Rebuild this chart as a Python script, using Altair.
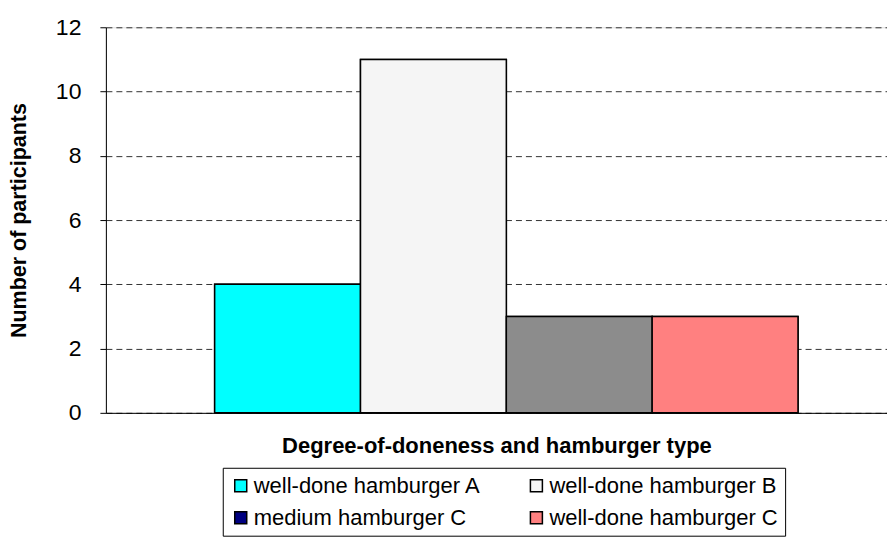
import altair as alt
import pandas as pd

types = ["well-done hamburger A", "well-done hamburger B", "medium hamburger C", "well-done hamburger C"]
counts = [4, 11, 3, 3]
bar_fill = ["#00FFFF", "#F5F5F5", "#8C8C8C", "#FF8080"]
legend_fill = ["#00FFFF", "#F5F5F5", "#000080", "#FF8080"]
y_ticks = [0, 2, 4, 6, 8, 10, 12]

df = pd.DataFrame({"type": types, "count": counts})

FONT = "Liberation Sans"

x_enc = alt.X(
    "type:N",
    sort=types,
    scale=alt.Scale(paddingInner=0, paddingOuter=0.678, align=0.55),
    axis=alt.Axis(
        labels=False, ticks=False, domainColor="black", domainWidth=1,
        title="Degree-of-doneness and hamburger type",
        titleFont=FONT, titleFontSize=22, titleFontWeight="bold",
        titleColor="black", titlePadding=23,
    ),
)
y_enc = alt.Y(
    "count:Q",
    scale=alt.Scale(domain=[0, 12], nice=False),
    axis=alt.Axis(
        values=y_ticks, grid=True, gridColor="#333333", gridDash=[6, 4], gridWidth=1,
        domainColor="black", tickColor="black", tickSize=6,
        labelFont=FONT, labelFontSize=23, labelColor="black", labelPadding=19,
        title="Number of participants", titleFont=FONT, titleFontSize=21.5,
        titleFontWeight="bold", titleColor="black", titlePadding=25,
    ),
)

# bottom layer carries the legend colours
legend_bars = alt.Chart(df).mark_bar(stroke="black", strokeWidth=1.5).encode(
    x=x_enc,
    y=y_enc,
    color=alt.Color(
        "type:N", sort=types,
        scale=alt.Scale(domain=types, range=legend_fill),
        legend=alt.Legend(
            orient="none", legendX=117, legendY=441, columns=2, direction="horizontal",
            title=None, symbolType="square", symbolSize=144, symbolStrokeColor="black",
            symbolStrokeWidth=1.5, labelFont=FONT, labelFontSize=22,
            labelColor="black", labelLimit=400, strokeColor="black", fillColor="white",
            padding=7, rowPadding=10, columnPadding=44, labelOffset=2,
        ),
    ),
)

# top layer shows the bars as drawn in the chart
bars = alt.Chart(df).mark_bar(stroke="black", strokeWidth=1.5).encode(
    x=x_enc,
    y=y_enc,
    fill=alt.Fill("type:N", sort=types, scale=alt.Scale(domain=types, range=bar_fill), legend=None),
)

chart = (
    alt.layer(legend_bars, bars)
    .properties(width=782, height=386, padding={"left": 0, "top": 8, "right": 0, "bottom": 0})
    .configure_view(strokeOpacity=0)
    .configure(font=FONT)
)

chart.save("out.html", embed_options={"renderer": "svg", "actions": False})
